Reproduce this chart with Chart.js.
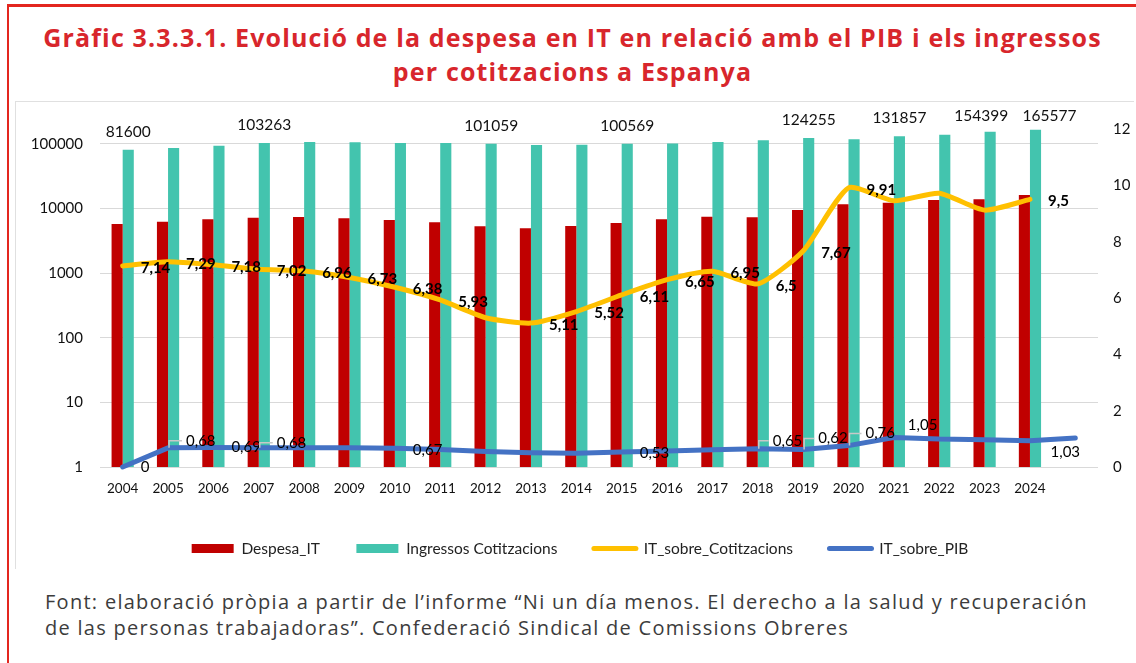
<!DOCTYPE html>
<html><head><meta charset="utf-8">
<script src="https://cdn.jsdelivr.net/npm/chart.js@4.4.1/dist/chart.umd.min.js"></script>
<style>
html,body{margin:0;padding:0;background:#fff;}
body{width:1136px;height:663px;position:relative;overflow:hidden;}
#frameTop{position:absolute;left:7px;top:4px;width:1129px;height:3px;background:#E3261F;}
#frameLeft{position:absolute;left:7px;top:4px;width:2px;height:659px;background:#E3261F;}
#box{position:absolute;left:15px;top:101px;width:1118px;height:467px;border-left:1px solid #E0E0E0;border-top:1px solid #E0E0E0;}
#title{position:absolute;left:9px;width:1127px;top:20px;text-align:center;color:#D8262C;font:700 25px "Open Sans";letter-spacing:1.15px;line-height:34px;}
#chartWrap{position:absolute;left:15px;top:102px;width:1118px;height:466px;}
#note{position:absolute;left:45px;top:589px;color:#3C3C3C;font:400 20px "Open Sans";letter-spacing:1.28px;line-height:26px;white-space:nowrap;}
</style></head>
<body>
<div id="frameTop"></div><div id="frameLeft"></div>
<div id="box"></div>
<div id="title">Gràfic 3.3.3.1. Evolució de la despesa en IT en relació amb el PIB i els ingressos<br>per cotitzacions a Espanya</div>
<div id="chartWrap"><canvas id="c" width="1118" height="466"></canvas></div>
<div id="note">Font: elaboració pròpia a partir de l’informe “Ni un día menos. El derecho a la salud y recuperación<br>de las personas trabajadoras”. Confederació Sindical de Comissions Obreres</div>
<script>
const years = ['2004','2005','2006','2007','2008','2009','2010','2011','2012','2013','2014','2015','2016','2017','2018','2019','2020','2021','2022','2023','2024',''];
const despesaIT = [5780,6270,6830,7230,7410,7080,6660,6140,5320,4960,5380,5980,6830,7500,7330,9510,11650,12330,13580,13930,16240,null];
const ingressosCotitzacions = [81600,86700,94100,103263,107000,106000,103500,103500,101059,96500,97000,100569,102000,107000,114000,124255,118000,131857,139000,154399,165577,null];
const itSobreCotitzacions = [7.14,7.29,7.18,7.02,6.96,6.73,6.38,5.93,5.30,5.11,5.52,6.11,6.65,6.95,6.50,7.67,9.91,9.45,9.72,9.12,9.50,null];
const itSobrePIB = [0,0.68,0.69,0.68,0.68,0.68,0.67,0.62,0.55,0.51,0.49,0.53,0.57,0.61,0.65,0.62,0.76,1.05,0.99,0.97,0.93,1.03];
const leftTicks = [1,10,100,1000,10000,100000];
const ingressosLabelYears = ['2004','2007','2012','2015','2019','2021','2023','2024'];
const cotLabelYears = ['2004','2005','2006','2007','2008','2009','2010','2011','2013','2014','2015','2016','2017','2018','2019','2020','2024'];
const pibLabelYears = ['2004','2005','2006','2007','2010','2015','2018','2019','2020','2021',''];

const fmt = v => String(v).replace('.', ',');

// label placement tweaks (not data)
const tealNudge = {'2023': -9, '2024': 14};
const pibLabelDy = {'2004':0,'2005':-7,'2006':0,'2007':-5,'2010':2,'2015':1,'2018':-8,'2019':-11,'2020':-12,'2021':-12};
const pibLabelDx = {'2018':15,'2019':15,'2020':17,'2021':14};
const pibLeaders = ['2005','2007','2018','2019','2020'];

const labelPlugin = {
  id: 'valueLabels',
  afterDatasetsDraw(chart) {
    const ctx = chart.ctx, ca = chart.chartArea;
    ctx.save();
    ctx.textBaseline = 'middle';
    const tm = chart.getDatasetMeta(1);
    ctx.font = '400 15.5px Lato'; ctx.fillStyle = '#111'; ctx.textAlign = 'center';
    ingressosLabelYears.forEach(y => {
      const i = years.indexOf(y); const el = tm.data[i];
      const ly = Math.max(el.y - 18, ca.top - 13);
      ctx.fillText(String(ingressosCotitzacions[i]), el.x + (tealNudge[y] || 0), ly);
    });
    const ym = chart.getDatasetMeta(2);
    ctx.font = '700 15px Lato'; ctx.fillStyle = '#000'; ctx.textAlign = 'left';
    cotLabelYears.forEach(y => {
      const i = years.indexOf(y); const el = ym.data[i];
      ctx.fillText(fmt(itSobreCotitzacions[i]), el.x + 18, el.y + 2);
    });
    const bm = chart.getDatasetMeta(3);
    ctx.font = '400 15px Lato';
    pibLabelYears.forEach(y => {
      const i = years.indexOf(y); const el = bm.data[i];
      const txt = fmt(itSobrePIB[i]);
      if (y === '') {
        ctx.textAlign = 'center'; ctx.fillStyle = '#000';
        ctx.fillText(txt, el.x - 10, el.y + 14);
        return;
      }
      const dx = pibLabelDx[y] !== undefined ? pibLabelDx[y] : 18;
      const dy = pibLabelDy[y] || 0;
      if (pibLeaders.includes(y)) {
        ctx.strokeStyle = '#C8C8C8'; ctx.lineWidth = 1.5;
        ctx.beginPath();
        ctx.moveTo(el.x + 1, el.y);
        ctx.lineTo(el.x + 1, el.y + dy);
        ctx.lineTo(el.x + dx - 4, el.y + dy);
        ctx.stroke();
      }
      ctx.textAlign = 'left'; ctx.fillStyle = '#000';
      ctx.fillText(txt, el.x + dx, el.y + dy);
    });
    ctx.restore();
  }
};

// keep the wide horizontal legend spacing without a tall legend box
const legendFitPlugin = {
  id: 'legendFit',
  beforeLayout(chart) {
    const lg = chart.legend;
    if (lg && !lg._fitPatched) {
      const origFit = lg.fit.bind(lg);
      lg.fit = function() { origFit(); this.height = 63.75; };
      const origDraw = lg.draw.bind(lg);
      lg.draw = function() { const c = this.ctx; c.save(); c.translate(6, 0); origDraw(); c.restore(); };
      lg._fitPatched = true;
    }
  }
};

new Chart(document.getElementById('c'), {
  data: {
    labels: years,
    datasets: [
      {type:'bar', label:'Despesa_IT', data: despesaIT, backgroundColor:'#C00000', yAxisID:'y', order:3, categoryPercentage:0.49, barPercentage:1},
      {type:'bar', label:'Ingressos Cotitzacions', data: ingressosCotitzacions, backgroundColor:'#43C4AE', yAxisID:'y', order:3, categoryPercentage:0.49, barPercentage:1},
      {type:'line', label:'IT_sobre_Cotitzacions', data: itSobreCotitzacions, borderColor:'#FFC000', backgroundColor:'#FFC000', borderWidth:5, pointRadius:0, tension:0.2, yAxisID:'y1', order:1, clip:false, borderCapStyle:'round', borderJoinStyle:'round'},
      {type:'line', label:'IT_sobre_PIB', data: itSobrePIB, borderColor:'#4472C4', backgroundColor:'#4472C4', borderWidth:5, pointRadius:0, tension:0, yAxisID:'y1', order:0, clip:false, borderCapStyle:'round', borderJoinStyle:'round'}
    ]
  },
  options: {
    responsive:false, devicePixelRatio:1, animation:false,
    layout:{padding:{left:0, right:0, top:27, bottom:0}},
    plugins:{
      tooltip:{enabled:false},
      legend:{
        position:'bottom',
        labels:{
          usePointStyle:true, pointStyleWidth:42, boxHeight:9, padding:36.5,
          font:{family:'Lato', size:15.5}, color:'#222',
          generateLabels(chart){
            return chart.data.datasets.map((ds,i)=>({
              text: ds.label,
              fillStyle: ds.type==='line' ? ds.borderColor : ds.backgroundColor,
              strokeStyle: ds.type==='line' ? ds.borderColor : ds.backgroundColor,
              lineWidth: ds.type==='line' ? 5 : 0,
              lineCap: 'round',
              pointStyle: ds.type==='line' ? 'line' : 'rect',
              hidden:false, datasetIndex:i, fontColor:'#222'
            }));
          }
        }
      }
    },
    scales:{
      x:{
        offset:true,
        grid:{display:false, drawTicks:false},
        border:{display:false},
        ticks:{font:{family:'Lato', size:13.5}, color:'#111', padding:14, maxRotation:0, autoSkip:false},
        afterFit(s){ s.height = 37.25; }
      },
      y:{
        type:'logarithmic', position:'left', min:1, max:170600,
        grid:{color:'#D9D9D9', lineWidth:1, drawTicks:false},
        border:{display:false},
        afterBuildTicks(s){ s.ticks = leftTicks.map(v=>({value:v})); },
        ticks:{font:{family:'Lato', size:15}, color:'#111', padding:17, callback:(v)=>String(v)},
        afterFit(s){ s.width = 85; }
      },
      y1:{
        type:'linear', position:'right', min:0, max:12,
        grid:{display:false, drawTicks:false},
        border:{display:false},
        ticks:{stepSize:2, font:{family:'Lato', size:15}, color:'#111', padding:15},
        afterFit(s){ s.width = 35; }
      }
    }
  },
  plugins:[labelPlugin, legendFitPlugin]
});
</script>
</body></html>
